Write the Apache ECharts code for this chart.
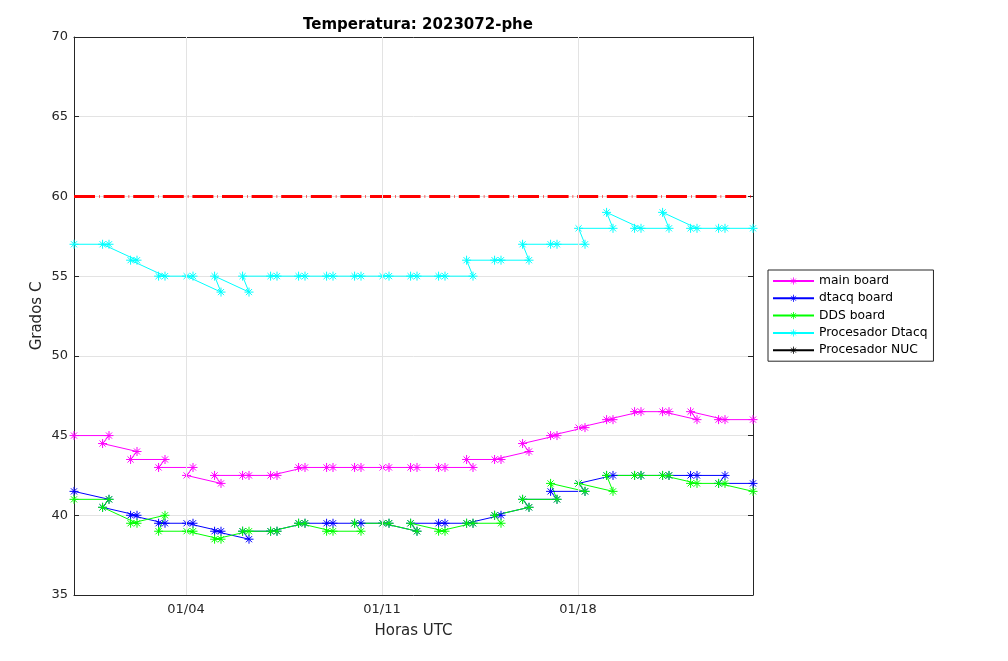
<!DOCTYPE html>
<html>
<head>
<meta charset="utf-8">
<script src="https://cdn.jsdelivr.net/npm/echarts@6/dist/echarts.min.js"></script>
<style>
  html, body { margin: 0; padding: 0; background: #fff; }
  #temp-chart { width: 1008px; height: 661px; }
</style>
</head>
<body>
<div id="temp-chart"></div>
<script>
// sample times, in the order they were logged (pairs come late-first)
const sampleTimes = [
  '2023-12-31 00:00',
  '2024-01-01 06:00', '2024-01-01 00:30',
  '2024-01-02 06:00', '2024-01-02 00:30',
  '2024-01-03 06:00', '2024-01-03 00:30',
  '2024-01-04 06:00', '2024-01-04 00:30',
  '2024-01-05 06:00', '2024-01-05 00:30',
  '2024-01-06 06:00', '2024-01-06 00:30',
  '2024-01-07 06:00', '2024-01-07 00:30',
  '2024-01-08 06:00', '2024-01-08 00:30',
  '2024-01-09 06:00', '2024-01-09 00:30',
  '2024-01-10 06:00', '2024-01-10 00:30',
  '2024-01-11 06:00', '2024-01-11 00:30',
  '2024-01-12 06:00', '2024-01-12 00:30',
  '2024-01-13 06:00', '2024-01-13 00:30',
  '2024-01-14 06:00', '2024-01-14 00:30',
  '2024-01-15 06:00', '2024-01-15 00:30',
  '2024-01-16 06:00', '2024-01-16 00:30',
  '2024-01-17 06:00', '2024-01-17 00:30',
  '2024-01-18 06:00', '2024-01-18 00:30',
  '2024-01-19 06:00', '2024-01-19 00:30',
  '2024-01-20 06:00', '2024-01-20 00:30',
  '2024-01-21 06:00', '2024-01-21 00:30',
  '2024-01-22 06:00', '2024-01-22 00:30',
  '2024-01-23 06:00', '2024-01-23 00:30',
  '2024-01-24 06:00'
];

const mainBoard = [45,
  45, 44.5, 44, 43.5, 43.5, 43, 43, 42.5, 42, 42.5, 42.5, 42.5, 42.5, 42.5,
  43, 43, 43, 43, 43, 43, 43, 43, 43, 43, 43, 43, 43, 43.5, 43.5, 43.5,
  44, 44.5, 45, 45, 45.5, 45.5, 46, 46, 46.5, 46.5, 46.5, 46.5, 46, 46.5, 46, 46,
  46];
const dtacqBoard = [41.5,
  41, 40.5, 40, 40, 39.5, 39.5, 39.5, 39.5, 39, 39, 38.5, 39, 39, 39,
  39.5, 39.5, 39.5, 39.5, 39.5, 39.5, 39.5, 39.5, 39, 39.5, 39.5, 39.5, 39.5, 39.5, 40, 40,
  40.5, 41, 41, 41.5, 41.5, 42, 42.5, 42.5, 42.5, 42.5, 42.5, 42.5, 42.5, 42.5, 42.5, 42,
  42];
const ddsBoard = [41,
  41, 40.5, 39.5, 39.5, 40, 39, 39, 39, 38.5, 38.5, 39, 39, 39, 39,
  39.5, 39.5, 39, 39, 39, 39.5, 39.5, 39.5, 39, 39.5, 39, 39, 39.5, 39.5, 39.5, 40,
  40.5, 41, 41, 42, 41.5, 42, 41.5, 42.5, 42.5, 42.5, 42.5, 42.5, 42, 42, 42, 42,
  41.5];
const procDtacq = [57,
  57, 57, 56, 56, 55, 55, 55, 55, 54, 55, 54, 55, 55, 55,
  55, 55, 55, 55, 55, 55, 55, 55, 55, 55, 55, 55, 55, 56, 56, 56,
  56, 57, 57, 57, 57, 58, 58, 59, 58, 58, 58, 59, 58, 58, 58, 58,
  58];
const procNUC = [];

const limitTemp = 60;
const tickDays = ['2024-01-04 00:00', '2024-01-11 00:00', '2024-01-18 00:00'];
const axisStart = '2023-12-31 00:00';
const axisEnd = '2024-01-24 06:00';

function toMs(s) {
  const [d, t] = s.split(' ');
  const [y, m, day] = d.split('-').map(Number);
  const [h, mi] = t.split(':').map(Number);
  return Date.UTC(y, m - 1, day, h, mi);
}
function pad(n) { return (n < 10 ? '0' : '') + n; }

const xs = sampleTimes.map(toMs);
const ticks = tickDays.map(toMs);
const xMin = toMs(axisStart), xMax = toMs(axisEnd);
const pair = vals => vals.map((v, i) => [xs[i], v]);

const star = 'path://M5,0L5,10M0,5L10,5M1.6,1.6L8.4,8.4M1.6,8.4L8.4,1.6';
const ink = '#262626';
const font = 'DejaVu Sans';

function boardSeries(name, color, vals) {
  return {
    name: name,
    type: 'line',
    data: pair(vals),
    symbol: star,
    symbolSize: 9,
    lineStyle: { color: color, width: 1 },
    itemStyle: { color: color, borderColor: color, borderWidth: 1 },
    z: 3
  };
}

const chart = echarts.init(document.getElementById('temp-chart'));
chart.setOption({
  animation: false,
  backgroundColor: '#fff',
  title: {
    text: 'Temperatura: 2023072-phe',
    left: 413, top: 13, textAlign: 'center',
    textStyle: { fontFamily: font, fontSize: 15, fontWeight: 'bold', color: '#000' }
  },
  grid: { left: 74, top: 37, width: 679, height: 558, containLabel: false },
  legend: {
    data: ['main board', 'dtacq board', 'DDS board', 'Procesador Dtacq', 'Procesador NUC'],
    orient: 'vertical',
    left: 768, top: 270,
    padding: [5, 6, 5, 4],
    itemWidth: 41, itemHeight: 9, itemGap: 5.3,
    itemStyle: { borderWidth: 0.8 },
    backgroundColor: '#fff',
    borderColor: ink, borderWidth: 1,
    textStyle: { fontFamily: font, fontSize: 12.3, color: '#000' }
  },
  xAxis: [{
    type: 'value', min: xMin, max: xMax,
    name: 'Horas UTC', nameLocation: 'middle', nameGap: 29, nameMoveOverlap: false,
    nameTextStyle: { fontFamily: font, fontSize: 15, color: ink },
    axisLine: { lineStyle: { color: ink, width: 1 } },
    axisTick: { inside: true, length: 5, customValues: ticks, lineStyle: { color: ink } },
    axisLabel: {
      customValues: ticks, margin: 8,
      fontFamily: font, fontSize: 13, color: ink,
      formatter: v => { const d = new Date(v); return pad(d.getUTCMonth() + 1) + '/' + pad(d.getUTCDate()); }
    },
    splitLine: { show: false }
  }, {
    type: 'value', min: xMin, max: xMax, position: 'top',
    axisLine: { lineStyle: { color: ink, width: 1 } },
    axisTick: { inside: true, length: 5, customValues: ticks, lineStyle: { color: ink } },
    axisLabel: { show: false },
    splitLine: { show: false }
  }],
  yAxis: [{
    type: 'value', min: 35, max: 70, interval: 5,
    name: 'Grados C', nameLocation: 'middle', nameGap: 29, nameMoveOverlap: false,
    nameTextStyle: { fontFamily: font, fontSize: 15, color: ink },
    axisLine: { show: true, lineStyle: { color: ink, width: 1 } },
    axisTick: { show: true, inside: true, length: 5, lineStyle: { color: ink } },
    axisLabel: { margin: 6, fontFamily: font, fontSize: 13, color: ink },
    splitLine: { show: true, lineStyle: { color: '#e3e3e3', width: 1 } }
  }, {
    type: 'value', min: 35, max: 70, interval: 5, position: 'right',
    axisLine: { show: true, lineStyle: { color: ink, width: 1 } },
    axisTick: { show: true, inside: true, length: 5, lineStyle: { color: ink } },
    axisLabel: { show: false },
    splitLine: { show: false }
  }],
  series: [
    {
      name: 'grid-x', type: 'line', data: [], silent: true, z: 1,
      markLine: {
        silent: true, symbol: 'none', label: { show: false },
        lineStyle: { color: '#e3e3e3', width: 1, type: 'solid' },
        data: ticks.map(t => ({ xAxis: t }))
      }
    },
    {
      name: 'limite', type: 'line', symbol: 'none', silent: true, z: 2,
      data: [[xMin, limitTemp], [xMax, limitTemp]],
      lineStyle: { color: '#ff0000', width: 3, type: [21, 4, 0.6, 4] }
    },
    boardSeries('main board', '#ff00ff', mainBoard),
    boardSeries('dtacq board', '#0000ff', dtacqBoard),
    boardSeries('DDS board', '#00ff00', ddsBoard),
    boardSeries('Procesador Dtacq', '#00ffff', procDtacq),
    boardSeries('Procesador NUC', '#000000', procNUC)
  ]
});
</script>
</body>
</html>
